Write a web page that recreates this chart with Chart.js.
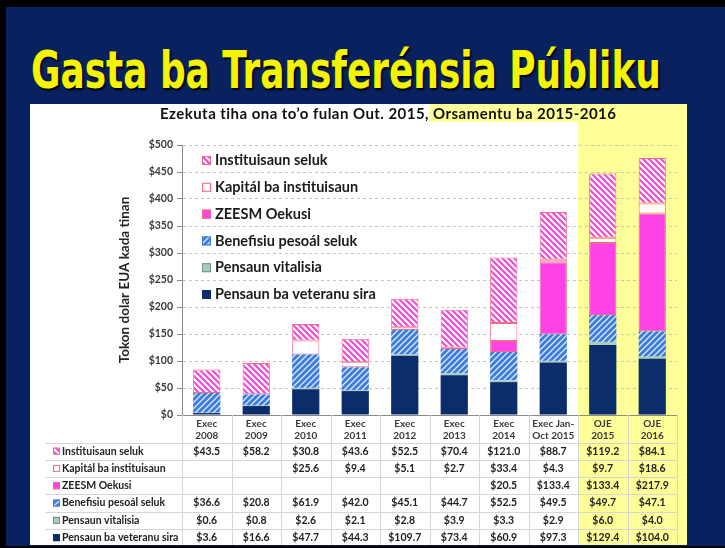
<!DOCTYPE html>
<html>
<head>
<meta charset="utf-8">
<script src="https://cdn.jsdelivr.net/npm/chart.js@4.4.1/dist/chart.umd.min.js"></script>
<style>
  body { margin: 0; width: 725px; height: 548px; background: #000; overflow: hidden; }
  #slide { position: absolute; left: 6px; top: 7px; width: 719px; height: 539px; background: #0a2160; }
  #title { position: absolute; left: 31px; top: 40px; white-space: nowrap;
    font-family: "DejaVu Sans Condensed", "DejaVu Sans", sans-serif; font-weight: bold; font-size: 52px;
    color: #f4f400; text-shadow: 2px 2px 2px #000; transform-origin: left top; }
  #panel { position: absolute; left: 30px; top: 104px; width: 657px; height: 441px; background: #fff; }
  #panel canvas { position: absolute; left: 0; top: 0; }
  #sub { position: absolute; left: 130px; top: 0; height: 19px; line-height: 19px; white-space: nowrap;
    font-family: Lato, sans-serif; font-weight: bold; font-size: 15px; letter-spacing: 0.45px; color: #111; z-index: 2; }
  #sub span { background: #ffff99; padding-right: 7px; }
</style>
</head>
<body>
<div id="slide"></div>
<div id="title">Gasta ba Transferénsia Públiku</div>
<div id="panel">
  <canvas id="chart" width="657" height="441"></canvas>
  <div id="sub">Ezekuta tiha ona to’o fulan Out. 2015,<span> Orsamentu ba 2015-2016</span></div>
</div>
<script>
// fit the title to the slide width
const titleEl = document.getElementById("title");
titleEl.style.transform = "scaleX(" + (630 / titleEl.offsetWidth) + ")";

const labels = [["Exec", "2008"], ["Exec", "2009"], ["Exec", "2010"], ["Exec", "2011"], ["Exec", "2012"],
  ["Exec", "2013"], ["Exec", "2014"], ["Exec Jan-", "Oct 2015"], ["OJE", "2015"], ["OJE", "2016"]];
const institusaunSeluk = [43.5, 58.2, 30.8, 43.6, 52.5, 70.4, 121.0, 88.7, 119.2, 84.1];
const kapitalInstituisaun = [null, null, 25.6, 9.4, 5.1, 2.7, 33.4, 4.3, 9.7, 18.6];
const zeesmOekusi = [null, null, null, null, null, null, 20.5, 133.4, 133.4, 217.9];
const benefisiuSeluk = [36.6, 20.8, 61.9, 42.0, 45.1, 44.7, 52.5, 49.5, 49.7, 47.1];
const pensaunVitalisia = [0.6, 0.8, 2.6, 2.1, 2.8, 3.9, 3.3, 2.9, 6.0, 4.0];
const pensaunVeteranu = [3.6, 16.6, 47.7, 44.3, 109.7, 73.4, 60.9, 97.3, 129.4, 104.0];
const yTicks = [0, 50, 100, 150, 200, 250, 300, 350, 400, 450, 500];

const FONT = "Lato, sans-serif";

function stripes(bg, fg, dir, lw) {
  const c = document.createElement("canvas");
  c.width = 6; c.height = 6;
  const g = c.getContext("2d");
  g.fillStyle = bg;
  g.fillRect(0, 0, 6, 6);
  g.strokeStyle = fg;
  g.lineWidth = lw;
  g.beginPath();
  if (dir > 0) {
    g.moveTo(0, 6); g.lineTo(6, 0);
    g.moveTo(-3, 3); g.lineTo(3, -3);
    g.moveTo(3, 9); g.lineTo(9, 3);
  } else {
    g.moveTo(0, 0); g.lineTo(6, 6);
    g.moveTo(-3, 3); g.lineTo(3, 9);
    g.moveTo(3, -3); g.lineTo(9, 3);
  }
  g.stroke();
  return g.createPattern(c, "repeat");
}

const pinkHatch = stripes("#ffffff", "#f24ad6", -1, 2.2);
const blueHatch = stripes("#3c7ddb", "#dfeaff", 1, 1.3);
const pinkBorder = "#f26a86";

// bottom to top, as stacked
const series = [
  { label: "Pensaun ba veteranu sira", data: pensaunVeteranu, fill: "#0c2d6b", border: "#0c2d6b", key: "#0c2d6b", bw: 0 },
  { label: "Pensaun vitalisia", data: pensaunVitalisia, fill: "#a9cbc0", border: "#7a9c93", key: "#6f8f88", bw: 0 },
  { label: "Benefisiu pesoál seluk", data: benefisiuSeluk, fill: blueHatch, border: "#9cc0f0", key: "#3c7ddb", bw: 0 },
  { label: "ZEESM Oekusi", data: zeesmOekusi, fill: "#ff42e6", border: pinkBorder, key: pinkBorder, bw: 1 },
  { label: "Kapitál ba instituisaun", data: kapitalInstituisaun, fill: "#ffffff", border: pinkBorder, key: pinkBorder, bw: 1 },
  { label: "Instituisaun seluk", data: institusaunSeluk, fill: pinkHatch, border: pinkBorder, key: pinkBorder, bw: 1 }
];

function drawKey(ctx, s, x, y, size) {
  ctx.fillStyle = s.fill;
  ctx.fillRect(x, y, size, size);
  ctx.strokeStyle = s.key;
  ctx.lineWidth = 1;
  ctx.strokeRect(x + 0.5, y + 0.5, size - 1, size - 1);
}

const slidePlugin = {
  id: "slide",
  beforeDraw(chart) {
    const { ctx, scales: { x } } = chart;
    const split = (x.getPixelForValue(7) + x.getPixelForValue(8)) / 2;
    ctx.save();
    ctx.fillStyle = "#ffff99";
    ctx.fillRect(split, 0, chart.width - split, chart.height);
    ctx.restore();
  },
  afterDraw(chart) {
    const { ctx, chartArea: ca, scales: { x } } = chart;
    ctx.save();

    // y axis title
    ctx.translate(95, (ca.top + ca.bottom) / 2);
    ctx.rotate(-Math.PI / 2);
    ctx.font = "bold 13.5px " + FONT;
    ctx.fillStyle = "#222";
    ctx.textAlign = "center";
    ctx.textBaseline = "middle";
    ctx.fillText("Tokon dolar EUA kada tinan", 0, 0);
    ctx.setTransform(1, 0, 0, 1, 0, 0);

    // legend in the plot
    ctx.textAlign = "left";
    ctx.font = "bold 14.5px " + FONT;
    const legendOrder = series.slice().reverse();
    legendOrder.forEach((s, i) => {
      const y = ca.top + 15 + i * 26.8;
      drawKey(ctx, s, 172, y - 4, 9);
      ctx.fillStyle = "#1a1a1a";
      ctx.fillText(s.label, 185, y + 0.5);
    });

    // data table
    const rowTop = ca.bottom + 27.5;
    const rowH = 17.3;
    const step = x.getPixelForValue(1) - x.getPixelForValue(0);
    const left = 15;
    const right = x.getPixelForValue(labels.length - 1) + step / 2;
    ctx.strokeStyle = "#d6d6d6";
    ctx.lineWidth = 1;
    for (let i = 0; i <= labels.length; i++) {
      const px = Math.round(x.getPixelForValue(i) - step / 2) + 0.5;
      ctx.beginPath();
      ctx.moveTo(px, ca.bottom);
      ctx.lineTo(px, chart.height);
      ctx.stroke();
    }
    for (let r = 0; r < legendOrder.length; r++) {
      const py = Math.round(rowTop + r * rowH) + 0.5;
      ctx.beginPath();
      ctx.moveTo(left, py);
      ctx.lineTo(right, py);
      ctx.stroke();
    }
    legendOrder.forEach((s, r) => {
      const cy = rowTop + r * rowH + rowH / 2;
      drawKey(ctx, s, left + 8, cy - 3.5, 7);
      ctx.font = "bold 10.5px " + FONT;
      ctx.fillStyle = "#222";
      ctx.textAlign = "left";
      ctx.fillText(s.label, left + 17, cy);
      ctx.textAlign = "center";
      s.data.forEach((v, i) => {
        if (v === null) return;
        ctx.fillText("$" + v.toFixed(1), x.getPixelForValue(i), cy);
      });
    });
    ctx.restore();
  }
};

new Chart(document.getElementById("chart"), {
  type: "bar",
  data: {
    labels: labels,
    datasets: series.map(s => ({
      label: s.label,
      data: s.data,
      backgroundColor: s.fill,
      borderColor: s.border,
      borderWidth: s.bw,
      borderSkipped: false,
      categoryPercentage: 1,
      barPercentage: 0.55
    }))
  },
  options: {
    responsive: false,
    animation: false,
    layout: { padding: { top: 41, right: 10, left: 0, bottom: 0 } },
    plugins: { legend: { display: false }, tooltip: { enabled: false } },
    scales: {
      x: {
        stacked: true,
        grid: { display: true, drawOnChartArea: false, drawTicks: false },
        border: { color: "#8a8a8a" },
        ticks: { font: { family: FONT, weight: "bold", size: 10 }, color: "#3a3a3a", padding: 3, maxRotation: 0, autoSkip: false },
        afterFit(s) { s.height = 130; }
      },
      y: {
        stacked: true,
        min: 0,
        max: 500,
        afterBuildTicks(s) { s.ticks = yTicks.map(v => ({ value: v })); },
        ticks: { callback: v => "$" + v, font: { family: FONT, weight: "bold", size: 10.5 }, color: "#3a3a3a", padding: 4 },
        grid: { color: "#c4c4c4", tickColor: "#8a8a8a", tickLength: 5 },
        border: { color: "#8a8a8a", dash: [3, 3] },
        afterFit(s) { s.width = 152; }
      }
    }
  },
  plugins: [slidePlugin]
});
</script>
</body>
</html>
